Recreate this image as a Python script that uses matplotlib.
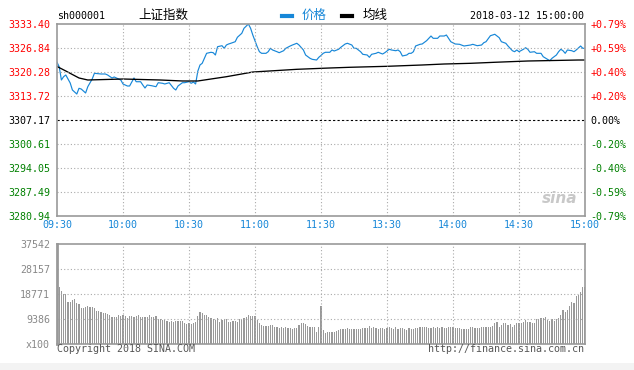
import numpy as np
import matplotlib.pyplot as plt

W, H = 634, 370

pre_close = 3307.17
price_ticks = [3280.94, 3287.49, 3294.05, 3300.61, 3307.17, 3313.72, 3320.28, 3326.84, 3333.40]
pct_labels = ['-0.79%', '-0.59%', '-0.40%', '-0.20%', '0.00%', '+0.20%', '+0.40%', '+0.59%', '+0.79%']
time_ticks = [0, 30, 60, 90, 120, 150, 180, 210, 240]
time_labels = ['09:30', '10:00', '10:30', '11:00', '11:30', '13:30', '14:00', '14:30', '15:00']
vol_ticks = [0, 9386, 18771, 28157, 37542]
vol_labels = ['x100', '9386', '18771', '28157', '37542']

# minutes after 09:30 (11:30 and 13:00 share minute 120)
price_min = [0, 1, 2, 3, 4, 6, 7, 9, 10, 11, 13, 14, 16, 17, 20, 22, 23, 25, 26, 29,
             30, 32, 33, 35, 36, 38, 39, 40, 41, 43, 45, 46, 48, 49, 51, 53, 54, 55, 57, 58,
             60, 61, 62, 63, 64, 65, 66, 67, 68, 70, 71, 72, 73, 75, 76, 77, 78, 79, 81, 82,
             84, 85, 87, 88, 89, 91, 92, 93, 95, 96, 97, 98, 100, 101, 103, 104, 106, 107, 109, 110,
             112, 113, 115, 116, 118, 119, 120, 121, 122, 124, 125, 126, 128, 129, 131, 132, 134, 135, 136, 138,
             139, 141, 142, 143, 145, 146, 148, 149, 151, 152, 154, 155, 156, 157, 159, 160, 161, 162, 163, 165,
             166, 168, 170, 171, 173, 174, 176, 177, 178, 179, 181, 183, 185, 186, 188, 189, 191, 193, 194, 195,
             197, 198, 199, 201, 202, 204, 205, 207, 208, 209, 210, 212, 213, 214, 215, 217, 218, 220, 221, 223,
             224, 225, 227, 228, 229, 230, 231, 232, 234, 235, 236, 238, 239, 240]
price_val = [3322.93, 3321.73, 3318.10, 3319.00, 3319.47, 3317.28, 3315.37, 3314.27, 3315.83, 3315.64,
             3314.55, 3316.27, 3318.37, 3319.93, 3319.74, 3319.74, 3319.47, 3318.65, 3318.92, 3318.10,
             3317.01, 3316.46, 3316.46, 3318.65, 3317.63, 3317.63, 3316.73, 3315.91, 3316.73, 3316.54,
             3316.27, 3317.36, 3317.20, 3317.01, 3317.36, 3315.83, 3315.37, 3316.46, 3317.36, 3317.36,
             3317.63, 3317.20, 3317.55, 3317.01, 3320.50, 3322.20, 3322.66, 3324.03, 3325.39, 3325.67,
             3325.56, 3324.93, 3327.20, 3327.47, 3326.76, 3327.66, 3327.94, 3328.13, 3328.56, 3329.77,
             3330.86, 3332.23, 3333.40, 3332.23, 3330.39, 3327.20, 3325.83, 3325.39, 3325.39, 3325.83,
             3326.76, 3326.30, 3325.83, 3325.56, 3326.10, 3326.76, 3327.39, 3327.66, 3328.13, 3327.66,
             3326.30, 3324.93, 3324.03, 3323.75, 3323.56, 3324.30, 3324.80, 3325.39, 3325.67, 3325.67,
             3326.30, 3326.02, 3326.49, 3327.03, 3327.94, 3328.13, 3327.66, 3326.76, 3326.76, 3325.83,
             3325.12, 3324.93, 3324.30, 3325.12, 3325.39, 3325.67, 3325.20, 3325.56, 3326.49, 3326.30,
             3326.10, 3326.30, 3325.83, 3324.66, 3324.93, 3325.39, 3325.39, 3325.83, 3327.39, 3327.85,
             3327.94, 3328.84, 3330.12, 3329.49, 3329.49, 3330.12, 3330.12, 3330.39, 3329.49, 3328.56,
             3327.94, 3327.85, 3327.39, 3327.47, 3327.66, 3327.85, 3327.47, 3327.66, 3328.29, 3328.56,
             3330.20, 3330.39, 3330.59, 3329.66, 3328.56, 3328.13, 3327.39, 3326.10, 3325.83, 3326.30,
             3325.83, 3326.49, 3326.92, 3326.49, 3325.67, 3325.83, 3325.39, 3325.39, 3324.47, 3323.75,
             3323.37, 3324.03, 3324.93, 3325.83, 3326.49, 3326.10, 3325.39, 3326.30, 3326.10, 3325.83,
             3326.30, 3327.39, 3326.76, 3326.76]

avg_min = [0, 4, 7, 10, 14, 30, 47, 57, 64, 77, 89, 109, 124, 133, 150, 166, 176, 188, 199, 214, 237, 240]
avg_val = [3321.80, 3320.56, 3319.60, 3318.65, 3318.10, 3318.37, 3318.10, 3317.83, 3317.83, 3319.00,
           3320.28, 3321.02, 3321.38, 3321.57, 3321.84, 3322.20, 3322.47, 3322.66, 3322.94, 3323.29,
           3323.56, 3323.56]

# one bar per minute, in units of 100 shares
volume = [21500, 21500, 20000, 18770, 18770, 15900, 15900, 16500, 16900, 15500,
          15000, 13400, 13400, 13800, 14300, 14000, 14000, 13400, 12500, 12500,
          11900, 11800, 11500, 11300, 10900, 10300, 10000, 10300, 11000, 10500,
          10900, 10500, 9900, 10600, 10600, 10300, 10600, 10900, 10000, 10000,
          10300, 10300, 10900, 10000, 10300, 10500, 9400, 9400, 9000, 9000,
          8600, 8400, 8600, 8400, 8600, 8600, 8600, 8800, 7800, 7500,
          7800, 7500, 7800, 8400, 10500, 12100, 11800, 10900, 10900, 10300,
          9600, 9300, 9000, 9600, 8400, 9000, 9300, 9300, 8400, 8400,
          8800, 8600, 8400, 9300, 9000, 9900, 10000, 10900, 10500, 10500,
          10500, 9000, 7800, 7100, 6800, 6800, 6800, 7100, 7100, 6500,
          6300, 5900, 6300, 5900, 6300, 5900, 5900, 5500, 5900, 6100,
          7100, 7800, 7800, 7500, 6800, 6300, 6300, 6300, 4600, 6300,
          14200,
          5300, 4300, 4600, 4600, 4600, 4600, 5000, 5300, 5500, 5500,
          5500, 5900, 5500, 5500, 5500, 5500, 5500, 5500, 5900, 5900,
          6100, 6800, 5900, 6300, 5900, 5500, 5900, 5900, 5500, 5900,
          6300, 5900, 5500, 6300, 5500, 6100, 5900, 5500, 5300, 5900,
          5500, 5500, 5900, 5900, 6300, 6300, 6300, 6300, 5900, 5900,
          6300, 5900, 6300, 5900, 6300, 5900, 5900, 6300, 6300, 6300,
          5900, 5900, 5900, 5500, 5500, 5500, 5500, 6300, 6300, 5900,
          5900, 5900, 6300, 6300, 6500, 6500, 6500, 6800, 7800, 8400,
          6300, 7100, 7800, 8000, 7100, 7500, 6300, 7100, 7800, 7800,
          8000, 8400, 9000, 8400, 8400, 8000, 8000, 9300, 9300, 9600,
          9600, 10000, 9000, 8800, 9300, 8800, 9300, 9600, 10900, 12800,
          12100, 12800, 14300, 15900, 15300, 18000, 18400, 19600, 21300, 21300]

RED, GREEN, BLUE, GRAY = '#ff0000', '#008000', '#1787d8', '#999999'
MONO = 'DejaVu Sans Mono'
CJK = ['Noto Sans CJK SC', 'DejaVu Sans']

fig = plt.figure(figsize=(W / 100, H / 100), dpi=100)

def box(l, t, r, b):
    return [l / W, 1 - b / H, (r - l) / W, (b - t) / H]

# --- price panel
ax = fig.add_axes(box(57, 24, 585, 216))
ax.plot(price_min, price_val, color=BLUE, lw=0.85)
ax.plot(avg_min, avg_val, color='black', lw=0.95)
ax.set_xlim(0, 240)
ax.set_ylim(price_ticks[0], price_ticks[-1])
for t in time_ticks[1:-1]:
    ax.axvline(t, color='#aaaaaa', lw=0.8, ls=(0, (1, 2)))
for p in price_ticks[1:-1]:
    if p == pre_close:
        ax.axhline(p, color='black', lw=0.8, ls=(0, (2, 2)))
    else:
        ax.axhline(p, color='#aaaaaa', lw=0.8, ls=(0, (1, 2)))
for s in ax.spines.values():
    s.set_color(GRAY)
    s.set_linewidth(1.2)

ax.set_xticks(time_ticks)
ax.set_xticklabels(time_labels, fontfamily=MONO, fontsize=7.2, color=BLUE)
ax.set_yticks(price_ticks)
ax.set_yticklabels(['%.2f' % p for p in price_ticks], fontfamily=MONO, fontsize=7.2)
ax.tick_params(length=0, pad=5)
ax.tick_params(axis='x', pad=3)
colors = [GREEN] * 4 + ['black'] + [RED] * 4
for lab, c in zip(ax.get_yticklabels(), colors):
    lab.set_color(c)

axr = ax.twinx()
axr.set_ylim(ax.get_ylim())
axr.set_yticks(price_ticks)
axr.set_yticklabels(pct_labels, fontfamily=MONO, fontsize=7.2)
axr.tick_params(length=0, pad=4)
for s in axr.spines.values():
    s.set_visible(False)
for lab, c in zip(axr.get_yticklabels(), colors):
    lab.set_color(c)

# sina watermark
ax.text(0.985, 0.05, 'sina', transform=ax.transAxes, ha='right', va='bottom',
        fontsize=11, fontstyle='italic', fontweight='bold', color='#c8c8c8')

# --- volume panel
axv = fig.add_axes(box(57, 244, 585, 344))
axv.bar(np.arange(len(volume)), volume, width=0.55, color=GRAY)
axv.set_xlim(0, 240)
axv.set_ylim(0, vol_ticks[-1])
for t in time_ticks[1:-1]:
    axv.axvline(t, color='#aaaaaa', lw=0.8, ls=(0, (1, 2)))
for v in vol_ticks[1:-1]:
    axv.axhline(v, color='#aaaaaa', lw=0.8, ls=(0, (1, 2)))
for s in axv.spines.values():
    s.set_color(GRAY)
    s.set_linewidth(1.2)
axv.spines['left'].set_linewidth(2)
axv.set_xticks([])
axv.set_yticks(vol_ticks)
axv.set_yticklabels(vol_labels, fontfamily=MONO, fontsize=7.2, color='#888888')
axv.tick_params(length=0, pad=5)

# --- header
def ftext(x, y, s, **kw):
    fig.text(x / W, 1 - y / H, s, va='center', **kw)

ftext(57, 16, 'sh000001', fontfamily=MONO, fontsize=7.2, color='black')
ftext(138, 15, '上证指数', family=CJK, fontsize=9, color='black')
fig.add_artist(plt.Line2D([282 / W, 292 / W], [1 - 16 / H] * 2, color=BLUE, lw=3))
ftext(302, 15, '价格', family=CJK, fontsize=9, color=BLUE)
fig.add_artist(plt.Line2D([342 / W, 352 / W], [1 - 16 / H] * 2, color='black', lw=3))
ftext(363, 15, '均线', family=CJK, fontsize=9, color='black')
ftext(584, 16, '2018-03-12 15:00:00', fontfamily=MONO, fontsize=7.2, color='black', ha='right')

# --- footer
ftext(57, 349, 'Copyright 2018 SINA.COM', fontfamily=MONO, fontsize=7.2, color='#555555')
ftext(584, 349, 'http://finance.sina.com.cn', fontfamily=MONO, fontsize=7.2, color='#555555', ha='right')
fig.add_artist(plt.Rectangle((0, 0), 1, 7 / H, transform=fig.transFigure, color='#f3f3f3', lw=0))

fig.savefig('out.png', dpi=100)
